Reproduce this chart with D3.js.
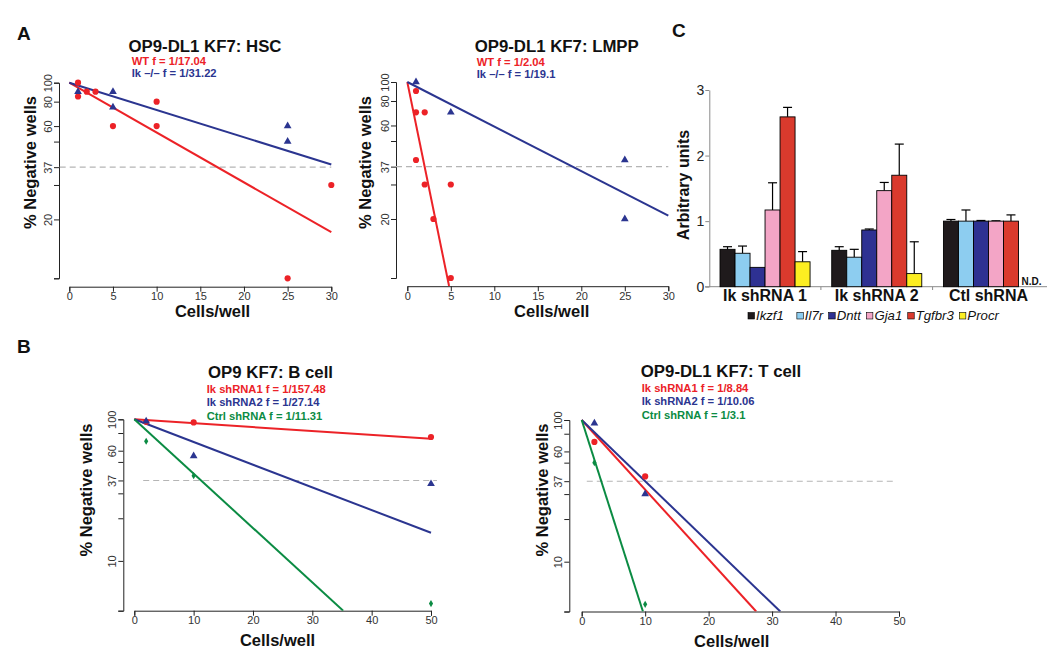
<!DOCTYPE html>
<html><head><meta charset="utf-8">
<script src="https://cdn.jsdelivr.net/npm/d3@7"></script>
<style>
body{margin:0;background:#fff}
text{font-family:'Liberation Sans',Arial,Helvetica,sans-serif}
</style>
</head><body>
<svg id="c" width="1050" height="659"></svg>
<script>
// ---------------- DATA ----------------
// Panel A: HSC
const hscTitle = "OP9-DL1 KF7: HSC";
const hscLegend = ["WT f = 1/17.04", "Ik \u2013/\u2013 f = 1/31.22"];
const hscWtX = [1, 1, 2, 3, 5, 10, 10, 25, 30];
const hscWtY = [100, 85, 90, 90, 60, 80, 60, 10, 30];
const hscIkX = [1, 5, 5, 25, 25];
const hscIkY = [90, 90, 75, 60, 50];
const hscFitEnd = [[30, 17.2], [30, 38.2]];

// Panel A: LMPP
const lmppTitle = "OP9-DL1 KF7: LMPP";
const lmppLegend = ["WT f = 1/2.04", "Ik \u2013/\u2013 f = 1/19.1"];
const lmppWtX = [1, 1, 1, 2, 2, 3, 5, 5];
const lmppWtY = [90, 70, 40, 70, 30, 20, 30, 10];
const lmppIkX = [1, 5, 25, 25];
const lmppIkY = [100, 70, 40, 20];
const lmppFitEnd = [[4.8, 9.1], [30, 20.8]];

// Panel B: B cell
const bTitle = "OP9 KF7: B cell";
const bLegend = ["Ik shRNA1 f = 1/157.48", "Ik shRNA2 f = 1/27.14", "Ctrl shRNA f = 1/11.31"];
const bX = [2, 10, 50];
const bSh1Y = [96, 95, 75];
const bSh2Y = [97, 55, 35];
const bCtrlY = [70, 40, 5];
const bFitEnd = [[50, 72.8], [50, 15.8], [35.2, 4.45]];

// Panel B: T cell
const tTitle = "OP9-DL1 KF7: T cell";
const tLegend = ["Ik shRNA1 f = 1/8.84", "Ik shRNA2 f = 1/10.06", "Ctrl shRNA f = 1/3.1"];
const tX = [2, 10];
const tSh1Y = [70, 40];
const tSh2Y = [95, 30];
const tCtrlY = [50, 5];
const tFitEnd = [[27.5, 4.45], [31.3, 4.45], [9.65, 4.45]];

const yTicksA = [100, 80, 60, 50, 37, 30, 20, 10];
const yLabelsA = [100, 80, 60, 37, 20];
const yTicksB = [100, 80, 60, 50, 37, 30, 20, 10, 4.45];
const yLabelsB = [100, 60, 37, 10];
const xTicksA = [0, 5, 10, 15, 20, 25, 30];
const xTicksB = [0, 10, 20, 30, 40, 50];
const refLevel = 37;

// Panel C
const groups = ["Ik shRNA 1", "Ik shRNA 2", "Ctl shRNA"];
const genes = ["Ikzf1", "Il7r", "Dntt", "Gja1", "Tgfbr3", "Procr"];
const ikzf1 = [0.57, 0.555, 1.0];   const ikzf1Err = [0.04, 0.055, 0.025];
const il7r = [0.51, 0.45, 1.0];     const il7rErr = [0.11, 0.12, 0.17];
const dntt = [0.295, 0.865, 1.0];   const dnttErr = [0, 0.015, 0.01];
const gja1 = [1.17, 1.465, 1.0];    const gja1Err = [0.415, 0.125, 0.005];
const tgfbr3 = [2.59, 1.70, 1.0];   const tgfbr3Err = [0.145, 0.475, 0.095];
const procr = [0.38, 0.2, null];    const procrErr = [0.155, 0.485, null];
const cTicks = [0, 1, 2, 3];

// ---------------- STYLE ----------------
const RED = "#ec2227", BLUE = "#2b3590", GREEN = "#0b8b43";
const geneColors = ["#1f1a1c", "#8dcdf0", "#2e3192", "#f3a5c6", "#da3a2d", "#fcee21"];
const svg = d3.select("#c");
const defs = svg.append("defs");

// ---------------- LDA PANELS ----------------
function drawLDA(L, title, legend, series) {
  const x = d3.scaleLinear().domain([0, L.xMax]).range([L.x0, L.x1]);
  const y = d3.scaleLog().domain([L.yMin, 100])
    .range([L.yTop + L.dec * Math.log10(100 / L.yMin), L.yTop]);
  const g = svg.append("g");

  defs.append("clipPath").attr("id", "clip-" + L.id).append("rect")
    .attr("x", L.axisX).attr("y", L.yTop - 30)
    .attr("width", L.x1 + 20 - L.axisX).attr("height", L.axisY - L.yTop + 30);

  // y axis
  const ya = g.append("g").attr("transform", `translate(${L.axisX},0)`)
    .call(d3.axisLeft(y).tickValues(L.yTicks).tickSizeOuter(0).tickSize(5)
      .tickFormat(d => L.yLabels.includes(d) ? String(d) : ""));
  ya.selectAll("path,line").attr("stroke", "#222").attr("stroke-width", 1);
  ya.selectAll("text").attr("x", 0).attr("dy", 0).attr("text-anchor", "middle")
    .attr("transform", "translate(-7,0) rotate(-90)")
    .attr("font-size", 11).attr("fill", "#333")
    .attr("font-family", "'Liberation Sans',Arial,sans-serif");

  // x axis
  const xa = g.append("g").attr("transform", `translate(0,${L.axisY})`)
    .call(d3.axisBottom(x).tickValues(L.xTicks).tickSizeOuter(0).tickSize(5));
  xa.selectAll("path,line").attr("stroke", "#222").attr("stroke-width", 1);
  xa.selectAll("text").attr("y", 13.5).attr("dy", 0)
    .attr("font-size", 11).attr("fill", "#333")
    .attr("font-family", "'Liberation Sans',Arial,sans-serif");

  // reference 37% dashed line
  g.append("line")
    .attr("x1", x(L.dash[0])).attr("x2", x(L.dash[1]))
    .attr("y1", y(refLevel)).attr("y2", y(refLevel))
    .attr("stroke", "#b5b5b5").attr("stroke-width", 1.1).attr("stroke-dasharray", "6,4");

  // fitted lines
  const lg = g.append("g").attr("clip-path", `url(#clip-${L.id})`);
  series.forEach(s => {
    lg.append("line")
      .attr("x1", x(0)).attr("y1", y(100))
      .attr("x2", x(s.fit[0])).attr("y2", y(s.fit[1]))
      .attr("stroke", s.color).attr("stroke-width", 2);
  });

  // points
  series.forEach(s => {
    const sym = s.shape === "circle" ? d3.symbol(d3.symbolCircle, 30)
      : s.shape === "triangle" ? d3.symbol(d3.symbolTriangle, 26)
      : d3.symbol(d3.symbolDiamond, 15);
    g.append("g").selectAll("path").data(s.xs.map((v, i) => [v, s.ys[i]]))
      .join("path")
      .attr("transform", d => `translate(${x(d[0])},${y(d[1])})`)
      .attr("d", sym()).attr("fill", s.color);
  });

  // title & legend
  g.append("text").attr("x", L.titleX).attr("y", L.titleY).attr("text-anchor", "middle")
    .attr("font-size", 16.8).attr("font-weight", "bold").attr("fill", "#111").text(title);
  legend.forEach((t, i) => {
    g.append("text").attr("x", L.legX).attr("y", L.legY + i * L.legDy)
      .attr("font-size", 11.2).attr("font-weight", "bold").attr("fill", series[i].color).text(t);
  });
  // axis titles
  g.append("text").attr("x", L.xlabX).attr("y", L.xlabY).attr("text-anchor", "middle")
    .attr("font-size", 16.5).attr("font-weight", "bold").attr("fill", "#111").text("Cells/well");
  g.append("text").attr("transform", `translate(${L.ylabX},${L.ylabY}) rotate(-90)`)
    .attr("text-anchor", "middle")
    .attr("font-size", 16.5).attr("font-weight", "bold").attr("fill", "#111").text("% Negative wells");
}

drawLDA({id: "hsc", x0: 69.3, x1: 331.3, xMax: 30, yTop: 82.7, dec: 195.6, yMin: 10,
  axisX: 59, axisY: 286.7, titleX: 205, titleY: 51.5, legX: 131.7, legY: 65, legDy: 12.4,
  xlabX: 212.5, xlabY: 317, ylabX: 35.5, ylabY: 162.5, dash: [-1.1, 30],
  xTicks: xTicksA, yTicks: yTicksA, yLabels: yLabelsA},
  hscTitle, hscLegend, [
    {color: RED, shape: "circle", xs: hscWtX, ys: hscWtY, fit: hscFitEnd[0]},
    {color: BLUE, shape: "triangle", xs: hscIkX, ys: hscIkY, fit: hscFitEnd[1]}]);

drawLDA({id: "lmpp", x0: 407.3, x1: 668.3, xMax: 30, yTop: 82, dec: 196, yMin: 10,
  axisX: 396, axisY: 286.2, titleX: 556.7, titleY: 51.5, legX: 476.7, legY: 65.5, legDy: 12.6,
  xlabX: 551.7, xlabY: 317, ylabX: 371, ylabY: 162.5, dash: [-1.3, 30],
  xTicks: xTicksA, yTicks: yTicksA, yLabels: yLabelsA},
  lmppTitle, lmppLegend, [
    {color: RED, shape: "circle", xs: lmppWtX, ys: lmppWtY, fit: lmppFitEnd[0]},
    {color: BLUE, shape: "triangle", xs: lmppIkX, ys: lmppIkY, fit: lmppFitEnd[1]}]);

drawLDA({id: "bcell", x0: 134.3, x1: 431, xMax: 50, yTop: 419.3, dec: 141.6, yMin: 4.45,
  axisX: 123.3, axisY: 610.7, titleX: 270.5, titleY: 378, legX: 206.7, legY: 392.5, legDy: 13.7,
  xlabX: 277.5, xlabY: 646, ylabX: 92, ylabY: 490, dash: [1.5, 51],
  xTicks: xTicksB, yTicks: yTicksB, yLabels: yLabelsB},
  bTitle, bLegend, [
    {color: RED, shape: "circle", xs: bX, ys: bSh1Y, fit: bFitEnd[0]},
    {color: BLUE, shape: "triangle", xs: bX, ys: bSh2Y, fit: bFitEnd[1]},
    {color: GREEN, shape: "diamond", xs: bX, ys: bCtrlY, fit: bFitEnd[2]}]);

drawLDA({id: "tcell", x0: 581.7, x1: 899, xMax: 50, yTop: 420, dec: 141.7, yMin: 4.45,
  axisX: 569.3, axisY: 611.5, titleX: 721, titleY: 376.5, legX: 641.7, legY: 392, legDy: 13.4,
  xlabX: 731.7, xlabY: 646.5, ylabX: 548, ylabY: 490, dash: [0.8, 49.6],
  xTicks: xTicksB, yTicks: yTicksB, yLabels: yLabelsB},
  tTitle, tLegend, [
    {color: RED, shape: "circle", xs: tX, ys: tSh1Y, fit: tFitEnd[0]},
    {color: BLUE, shape: "triangle", xs: tX, ys: tSh2Y, fit: tFitEnd[1]},
    {color: GREEN, shape: "diamond", xs: tX, ys: tCtrlY, fit: tFitEnd[2]}]);

// ---------------- PANEL C ----------------
(function () {
  const vals = [ikzf1, il7r, dntt, gja1, tgfbr3, procr];
  const errs = [ikzf1Err, il7rErr, dnttErr, gja1Err, tgfbr3Err, procrErr];
  const x0 = d3.scaleBand().domain(groups).range([709.3, 1044.2]).paddingInner(0.194).paddingOuter(0.096);
  const x1 = d3.scaleBand().domain(genes).range([0, x0.bandwidth()]);
  const y = d3.scaleLinear().domain([0, 3]).range([286.7, 90]);
  const g = svg.append("g");

  // axes
  const ya = g.append("g").attr("transform", "translate(709.3,0)")
    .call(d3.axisLeft(y).tickValues(cTicks).tickSize(4).tickSizeOuter(0).tickFormat(d3.format("d")));
  ya.selectAll("path,line").attr("stroke", "#8a8a8a");
  ya.selectAll("text").attr("x", -5).attr("font-size", 14).attr("fill", "#222")
    .attr("font-family", "'Liberation Sans',Arial,sans-serif");

  const xa = g.append("g").attr("transform", "translate(0,286.7)")
    .call(d3.axisBottom(x0).tickSize(0).tickSizeOuter(0));
  xa.select("path").attr("stroke", "#8a8a8a").attr("d", "M705,0H1047");
  xa.selectAll("text").attr("y", 14.5).attr("dy", 0).attr("font-size", 16)
    .attr("font-weight", "bold").attr("fill", "#111")
    .attr("font-family", "'Liberation Sans',Arial,sans-serif");
  // category boundary ticks
  [1, 2].forEach(k => {
    const bx = x0(groups[k]) - x0.step() * x0.paddingInner() / 2;
    g.append("line").attr("x1", bx).attr("x2", bx).attr("y1", 286.7).attr("y2", 290)
      .attr("stroke", "#8a8a8a");
  });

  // bars
  groups.forEach((grp, gi) => {
    genes.forEach((gene, ki) => {
      const v = vals[ki][gi];
      const bx = x0(grp) + x1(gene);
      const w = x1.bandwidth();
      if (v === null) {
        g.append("text").attr("x", bx + 3).attr("y", 285).attr("font-size", 10)
          .attr("font-weight", "bold").attr("fill", "#111").text("N.D.");
        return;
      }
      const e = errs[ki][gi];
      if (e > 0) {
        const cx = bx + w / 2;
        g.append("line").attr("x1", cx).attr("x2", cx).attr("y1", y(v)).attr("y2", y(v + e))
          .attr("stroke", "#000").attr("stroke-width", 1.2);
        g.append("line").attr("x1", cx - 4.5).attr("x2", cx + 4.5).attr("y1", y(v + e)).attr("y2", y(v + e))
          .attr("stroke", "#000").attr("stroke-width", 1.2);
      }
      g.append("rect").attr("x", bx).attr("y", y(v)).attr("width", w).attr("height", y(0) - y(v))
        .attr("fill", geneColors[ki]).attr("stroke", "#000").attr("stroke-width", 0.9);
    });
  });

  // y title
  g.append("text").attr("transform", "translate(689,185) rotate(-90)").attr("text-anchor", "middle")
    .attr("font-size", 16).attr("font-weight", "bold").attr("fill", "#111").text("Arbitrary units");

  // legend: laid out sequentially from measured text widths
  let lx = 748;
  genes.forEach((gene, i) => {
    const lg = g.append("g").attr("transform", `translate(${lx},0)`);
    lg.append("rect").attr("x", 0).attr("y", 312.5).attr("width", 6.5).attr("height", 6.5)
      .attr("fill", geneColors[i]).attr("stroke", "#000").attr("stroke-width", 0.6);
    const t = lg.append("text").attr("x", 8).attr("y", 319.5).attr("font-size", 13.2)
      .attr("font-style", "italic").attr("fill", "#111").text(gene);
    lx += 8 + t.node().getComputedTextLength() + (i === 0 ? 13 : 5.5);
  });
})();

// ---------------- PANEL LETTERS ----------------
[["A", 17, 39.5], ["B", 17, 353], ["C", 672, 37]].forEach(([t, px, py]) => {
  svg.append("text").attr("x", px).attr("y", py).attr("font-size", 19)
    .attr("font-weight", "bold").attr("fill", "#111").text(t);
});
</script>
</body></html>
